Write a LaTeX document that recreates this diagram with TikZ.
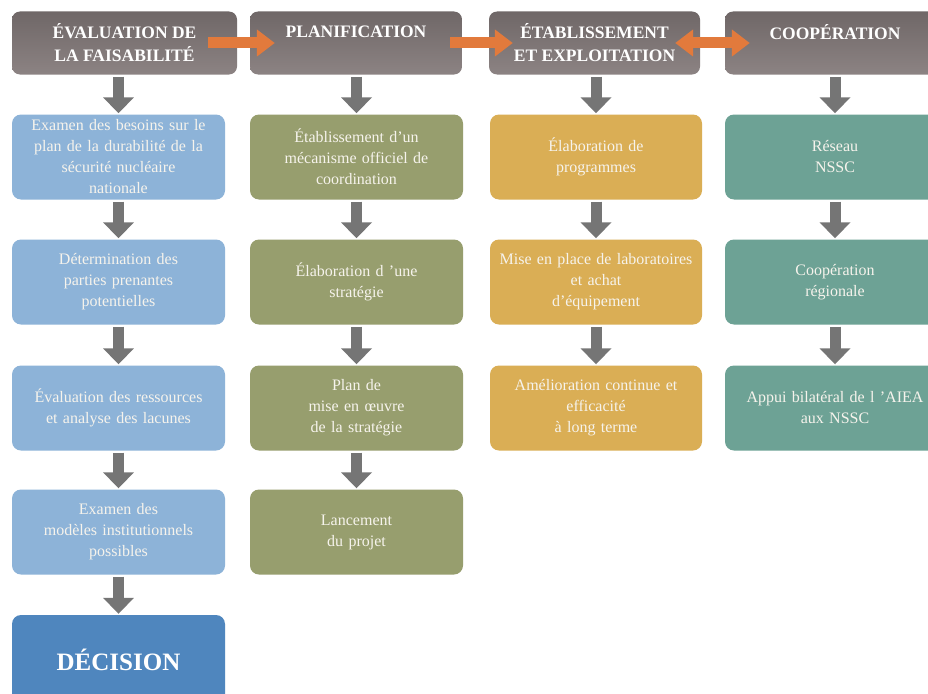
\documentclass[tikz,border=0pt]{standalone}
\usepackage{fontspec}
\setmainfont{Liberation Serif}
\usetikzlibrary{arrows.meta,positioning}

\definecolor{headgray}{HTML}{8C8383}
\definecolor{headdark}{HTML}{6F6767}
\definecolor{evalblue}{HTML}{8DB3D8}
\definecolor{decblue}{HTML}{4F86BE}
\definecolor{planolive}{HTML}{979E6E}
\definecolor{etabgold}{HTML}{DAAE55}
\definecolor{coopteal}{HTML}{6DA295}
\definecolor{boxtext}{HTML}{F6F3EC}
\definecolor{arrowgray}{HTML}{757575}
\definecolor{flowor}{HTML}{E27A3C}

\tikzset{
  head/.style={rounded corners=8pt, top color=headdark, bottom color=headgray,
    minimum height=63pt, inner sep=0pt, align=center, text=white,
    font=\bfseries\fontsize{17.5}{23}\selectfont},
  stage/.style={rounded corners=9pt, minimum width=213pt, minimum height=85pt,
    text width=206pt, inner sep=0pt, align=center, text=boxtext,
    font=\fontsize{16}{21}\selectfont},
  down/.style={draw=arrowgray, line width=11pt,
    -{Triangle[width=30pt,length=16pt]}, shorten <=2pt, shorten >=1pt},
  flow/.style={draw=flowor, line width=11pt,
    -{Triangle[width=26pt,length=18pt]}},
  flowboth/.style={draw=flowor, line width=11pt,
    {Triangle[width=26pt,length=18pt]}-{Triangle[width=26pt,length=18pt]}}
}

\begin{document}
\begin{tikzpicture}[x=1pt,y=-1pt]
\useasboundingbox (0,0) rectangle (928,693);
\fill[white] (0,0) rectangle (928,693);

% headers
\node[head, minimum width=225pt] (evalhead) at (124.5,43) {ÉVALUATION DE\\LA FAISABILITÉ};
\node[head, minimum width=212pt] (planhead) at (356,43) {PLANIFICATION\\\mbox{}};
\node[head, minimum width=211pt] (etabhead) at (594.5,43) {ÉTABLISSEMENT\\ET EXPLOITATION};
\node[head, minimum width=220pt] (coophead) at (835,43) {COOPÉRATION\\\mbox{}};

% evaluation column
\node[stage, fill=evalblue] (e1) at (118.5,157) {Examen des besoins sur le\\plan de la durabilité de la\\sécurité nucléaire\\nationale};
\node[stage, fill=evalblue] (e2) at (118.5,282) {Détermination des\\parties prenantes\\potentielles};
\node[stage, fill=evalblue] (e3) at (118.5,408) {Évaluation des ressources\\et analyse des lacunes};
\node[stage, fill=evalblue] (e4) at (118.5,532) {Examen des\\modèles institutionnels\\possibles};
\node[stage, fill=decblue, minimum height=90pt, font=\bfseries\fontsize{25}{30}\selectfont, text=white] (dec) at (118.5,660) {DÉCISION};

% planification column
\node[stage, fill=planolive] (p1) at (356.5,157) {Établissement d’un\\mécanisme officiel de\\coordination};
\node[stage, fill=planolive] (p2) at (356.5,282) {Élaboration d ’une\\stratégie};
\node[stage, fill=planolive] (p3) at (356.5,408) {Plan de\\mise en œuvre\\de la stratégie};
\node[stage, fill=planolive] (p4) at (356.5,532) {Lancement\\du projet};

% etablissement column
\node[stage, fill=etabgold, minimum width=212pt] (t1) at (596,157) {Élaboration de\\programmes\\[4pt]};
\node[stage, fill=etabgold, minimum width=212pt] (t2) at (596,282) {Mise en place de laboratoires\\et achat\\d’équipement};
\node[stage, fill=etabgold, minimum width=212pt] (t3) at (596,408) {Amélioration continue et\\efficacité\\à long terme};

% cooperation column
\node[stage, fill=coopteal, minimum width=220pt] (c1) at (835,157) {Réseau\\NSSC\\[4pt]};
\node[stage, fill=coopteal, minimum width=220pt] (c2) at (835,282) {Coopération\\régionale};
\node[stage, fill=coopteal, minimum width=220pt, text width=214pt] (c3) at (835,408) {Appui bilatéral de l ’AIEA\\aux NSSC};

% flow between headers
\draw[flow, shorten <=-29pt, shorten >=-25pt] (evalhead.east) -- (planhead.west);
\draw[flow, shorten <=-12pt, shorten >=-24pt] (planhead.east) -- (etabhead.west);
\draw[flowboth, shorten <=-25pt, shorten >=-25pt] (etabhead.east) -- (coophead.west);

% down arrows
\draw[down] (e1.north |- evalhead.south) -- (e1.north);
\draw[down] (e1) -- (e2);
\draw[down] (e2) -- (e3);
\draw[down] (e3) -- (e4);
\draw[down] (e4) -- (dec);
\draw[down] (p1.north |- planhead.south) -- (p1.north);
\draw[down] (p1) -- (p2);
\draw[down] (p2) -- (p3);
\draw[down] (p3) -- (p4);
\draw[down] (t1.north |- etabhead.south) -- (t1.north);
\draw[down] (t1) -- (t2);
\draw[down] (t2) -- (t3);
\draw[down] (c1.north |- coophead.south) -- (c1.north);
\draw[down] (c1) -- (c2);
\draw[down] (c2) -- (c3);
\end{tikzpicture}
\end{document}
